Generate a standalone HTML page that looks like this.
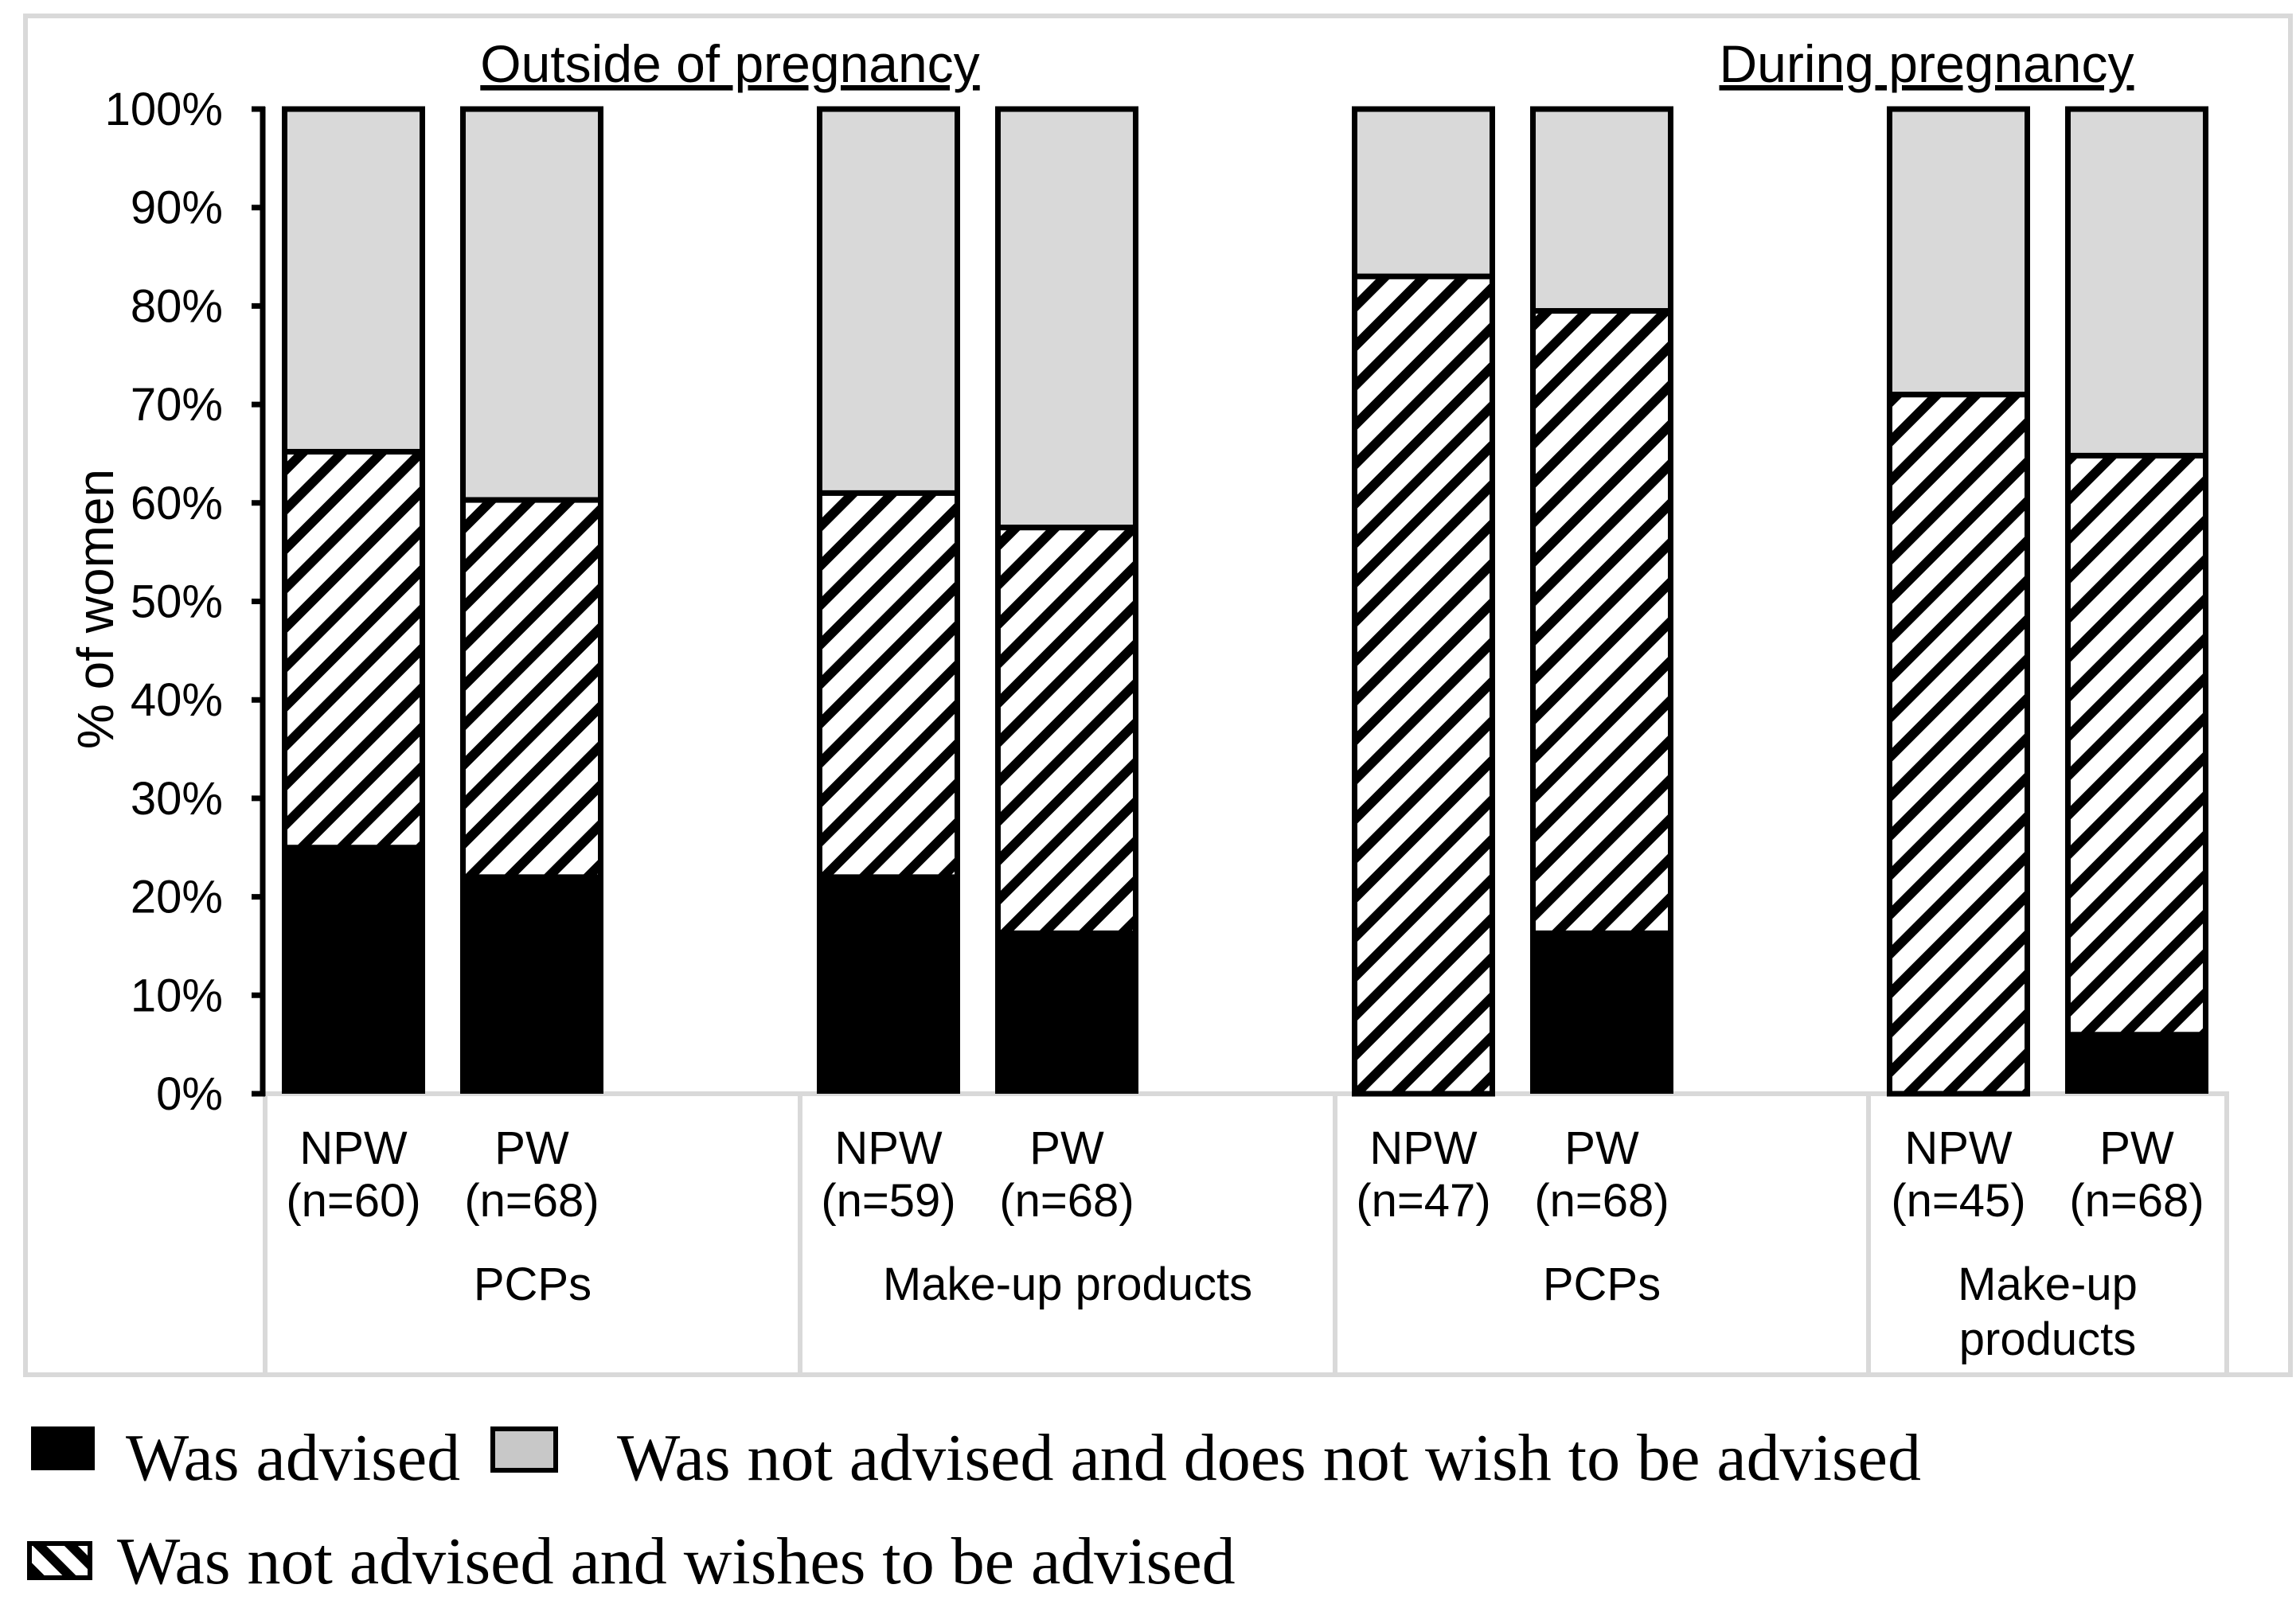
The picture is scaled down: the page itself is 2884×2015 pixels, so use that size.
<!DOCTYPE html>
<html><head><meta charset="utf-8"><style>
html,body{margin:0;padding:0;background:#fff}
svg{display:block}
text{font-family:"Liberation Sans",Arial,sans-serif;fill:#000}
.serif{font-family:"Liberation Serif","Times New Roman",serif}
</style></head><body>
<svg id="chart" width="2884" height="2015" viewBox="0 0 2884 2015" xmlns="http://www.w3.org/2000/svg">
<defs>
<pattern id="hatch" patternUnits="userSpaceOnUse" width="35" height="35" patternTransform="rotate(45)">
<rect width="35" height="35" fill="#fff"/>
<rect x="0" y="0" width="12" height="35" fill="#000"/>
</pattern>
<pattern id="hatch2" patternUnits="userSpaceOnUse" width="28" height="28" patternTransform="rotate(-45)">
<rect width="28" height="28" fill="#fff"/>
<rect x="0" y="0" width="12" height="28" fill="#000"/>
</pattern>
</defs>
<rect x="32" y="20" width="2845" height="1707" fill="none" stroke="#d9d9d9" stroke-width="6"/>
<g id="plot"></g>
<g id="labels"></g>
<g>
<rect x="39" y="1792" width="80" height="55" fill="#000"/>
<text class="serif" x="158" y="1859" font-size="84">Was advised</text>
<rect x="619" y="1795" width="79" height="52" fill="#c8c8c8" stroke="#000" stroke-width="6"/>
<text class="serif" x="775" y="1859" font-size="84">Was not advised and does not wish to be advised</text>
<rect x="37" y="1939" width="76" height="43" fill="url(#hatch2)" stroke="#000" stroke-width="6"/>
<text class="serif" x="147" y="1989" font-size="84">Was not advised and wishes to be advised</text>
</g>
</svg>
<script>
const groups = ["NPW","PW","NPW","PW","NPW","PW","NPW","PW"];
const sampleSizes = ["(n=60)","(n=68)","(n=59)","(n=68)","(n=47)","(n=68)","(n=45)","(n=68)"];
const advised = [25, 22, 22, 16.3, 0, 16.3, 0, 6];
const wishes = [40.2, 38.3, 39, 41.2, 83, 63.2, 71, 58.8];
const yTicks = [0,10,20,30,40,50,60,70,80,90,100];
const categoryLabels = [["PCPs"],["Make-up products"],["PCPs"],["Make-up","products"]];
const periodTitles = ["Outside of pregnancy","During pregnancy"];

const NS="http://www.w3.org/2000/svg";
const Y0=1374, Y100=137;
function yScale(v){return Y0-(Y0-Y100)*v/100;}
function xCenter(i){const c=Math.floor(i/2);return 444+c*672+(i%2)*224;}
const BW=180;
const SEPS=[333,1005,1677,2347,2797];
const plot=document.getElementById('plot');
const lab=document.getElementById('labels');
function mk(tag,attrs,parent){const e=document.createElementNS(NS,tag);for(const k in attrs)e.setAttribute(k,attrs[k]);parent.appendChild(e);return e;}

const box=mk('g',{},plot);


mk('line',{x1:333,y1:Y0,x2:2800,y2:Y0,stroke:'#d9d9d9','stroke-width':6},box);
SEPS.forEach(x=>{mk('line',{x1:x,y1:Y0,x2:x,y2:1727,stroke:'#d9d9d9','stroke-width':6},box);});

groups.forEach((g,i)=>{
  const cx=xCenter(i), x=cx-BW/2;
  const a=advised[i], w=wishes[i];
  const gg=mk('g',{},plot);
  
  
  const r1=mk('rect',{x:x+3.5,y:yScale(100),width:BW-7,height:yScale(a+w)-yScale(100),fill:'#d9d9d9',stroke:'#000','stroke-width':7},gg);
  
  
  if(w>0){
    const r2=mk('rect',{x:x+3.5,y:yScale(a+w),width:BW-7,height:yScale(a)-yScale(a+w),fill:'url(#hatch)',stroke:'#000','stroke-width':7},gg);
    
    
  }
  if(a>0){
    const r3=mk('rect',{x:x,y:yScale(a),width:BW,height:Y0-yScale(a),fill:'#000'},gg);
    
    
  }
  const t1=mk('text',{x:cx,y:1462,'font-size':58,'text-anchor':'middle'},lab);t1.textContent=g;
  
  
  const t2=mk('text',{x:cx,y:1528,'font-size':58,'text-anchor':'middle'},lab);t2.textContent=sampleSizes[i];
  
  
});
categoryLabels.forEach((lines,c)=>{
  const cx=(SEPS[c]+SEPS[c+1])/2;
  lines.forEach((ln,j)=>{
    const t=mk('text',{x:cx,y:1633+j*69,'font-size':58,'text-anchor':'middle'},lab);t.textContent=ln;
    
    
  });
});
const ax=mk('g',{},plot);


mk('line',{x1:330,y1:Y100-3,x2:330,y2:Y0+3,stroke:'#000','stroke-width':7},ax);
yTicks.forEach(v=>{
  const y=yScale(v);
  mk('line',{x1:316,y1:y,x2:333,y2:y,stroke:'#000','stroke-width':7},ax);
  const t=mk('text',{x:280,y:y+20,'font-size':58,'text-anchor':'end'},ax);t.textContent=v+'%';
  
  
});
const yt=mk('text',{x:0,y:0,'font-size':64,'text-anchor':'middle',transform:'translate(142,765) rotate(-90)'},lab);
yt.textContent='% of women';


[[917],[2420]].forEach((p,k)=>{
  const t=mk('text',{x:p[0],y:103,'font-size':66,'text-anchor':'middle','text-decoration':'underline'},lab);
  t.textContent=periodTitles[k];
  
  
});
</script>
</body></html>
